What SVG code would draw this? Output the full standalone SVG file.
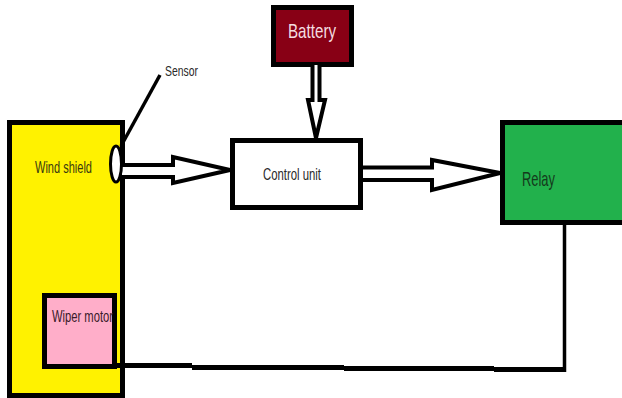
<svg xmlns="http://www.w3.org/2000/svg" width="622" height="398" viewBox="0 0 622 398">
<style>
.box{stroke:#000;stroke-width:5}
.lbl{font-family:"Liberation Sans",Arial,sans-serif}
.arrow{fill:#fff;stroke:#000;stroke-width:4;stroke-linejoin:miter}
.wire{stroke:#000;fill:none}
</style>
<rect width="622" height="398" fill="#fff"/>
<g id="windshield">
<rect class="box" x="9.5" y="122.5" width="113" height="273" fill="#FFF200"/>
<text class="lbl" x="35" y="173" font-size="16" textLength="57" lengthAdjust="spacingAndGlyphs" fill="#3a3a10">Wind shield</text>
</g>
<g id="wiper-motor">
<rect class="box" x="44.5" y="295.5" width="70" height="71" fill="#FFAEC9"/>
<text class="lbl" x="52" y="322" font-size="16" textLength="61" lengthAdjust="spacingAndGlyphs" fill="#3a1a2a">Wiper motor</text>
</g>
<g id="control-unit">
<rect class="box" x="232.5" y="140.5" width="128" height="67" fill="#fff"/>
<text class="lbl" x="263" y="180" font-size="16" textLength="58" lengthAdjust="spacingAndGlyphs" fill="#2a2a2a">Control unit</text>
</g>
<g id="battery">
<rect class="box" x="273.5" y="7.5" width="78" height="57" fill="#880015"/>
<text class="lbl" x="288" y="38" font-size="21" textLength="48" lengthAdjust="spacingAndGlyphs" fill="#f4dde0">Battery</text>
</g>
<g id="relay">
<rect x="502.5" y="122.5" width="120" height="100" fill="#22B14C"/>
<path class="box" fill="none" d="M622,122.5 H502.5 V222.5 H622"/>
<text class="lbl" x="522" y="186" font-size="21" textLength="33" lengthAdjust="spacingAndGlyphs" fill="#143a1c">Relay</text>
</g>
<g id="connectors">
<path class="arrow" d="M122,165 H173 V157 L230,170 L173,183 V177 H122"/>
<path class="arrow" d="M363,167.5 H432 V160 L500,173 L432,190 V180 H363"/>
<path class="arrow" stroke-width="3" d="M312.5,65 V100 H308 L316,138 L325,100 H319.5 V65"/>
<line class="wire" x1="121" y1="146" x2="160" y2="75" stroke-width="3.5"/>
<g class="wire" stroke-width="5">
<line x1="115" y1="365.5" x2="192" y2="365.5"/>
<line x1="192" y1="367.5" x2="344" y2="367.5"/>
<line x1="344" y1="368.5" x2="494" y2="368.5"/>
<line x1="494" y1="369.5" x2="566" y2="369.5"/>
</g>
<line class="wire" x1="564.5" y1="224" x2="564.5" y2="372" stroke-width="3.5"/>
</g>
<g id="sensor">
<ellipse cx="116" cy="164" rx="5.5" ry="18" fill="#fff" stroke="#000" stroke-width="3"/>
<text class="lbl" x="165" y="76" font-size="15" textLength="33" lengthAdjust="spacingAndGlyphs" fill="#2a2a2a">Sensor</text>
</g>
</svg>
